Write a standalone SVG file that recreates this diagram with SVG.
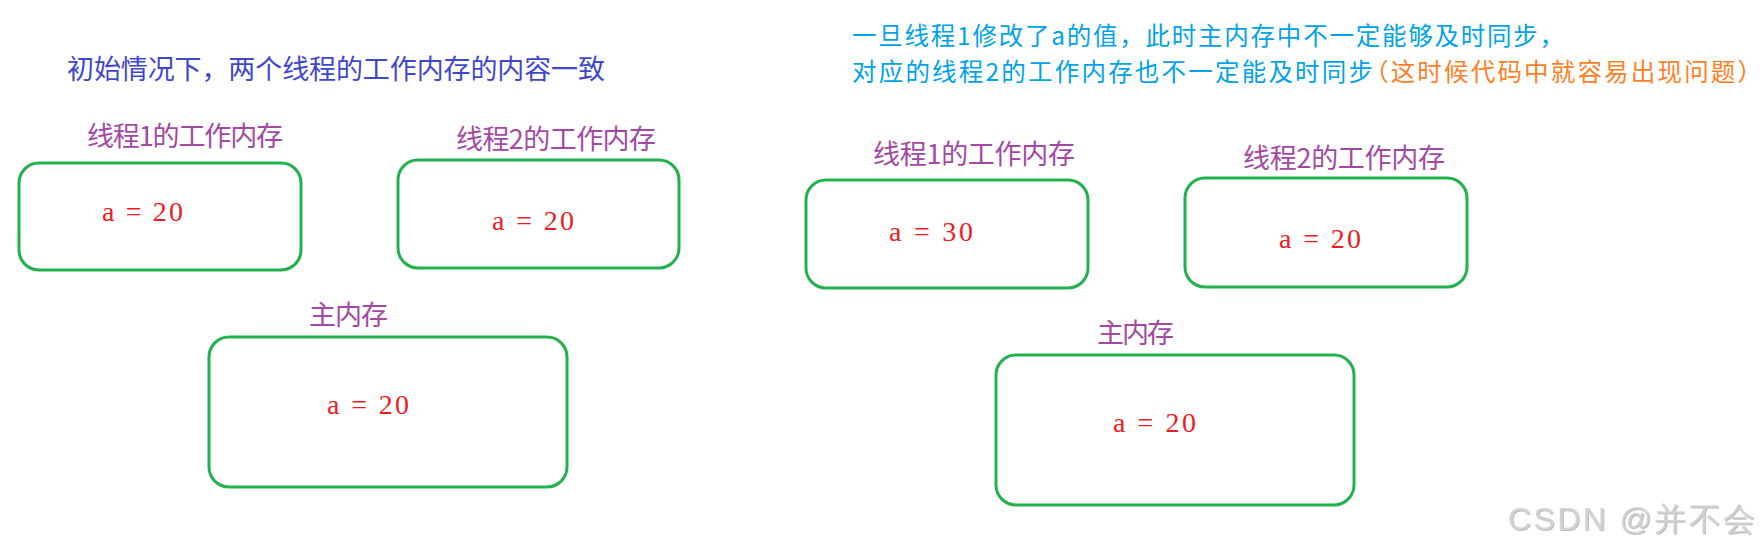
<svg xmlns="http://www.w3.org/2000/svg" width="1762" height="552" viewBox="0 0 1762 552">
<style>
.box{fill:none;stroke:#22b14c;stroke-width:3}
.cjk{font-family:"Noto Sans CJK SC","Noto Sans",sans-serif;font-size:27px}
.hdr{font-family:"Noto Sans CJK SC","Noto Sans",sans-serif;font-size:24.5px}
.lbl{font-family:"Noto Sans CJK SC","Noto Sans",sans-serif;font-size:27px;fill:#a349a4}
.val{font-family:"Liberation Serif","Noto Sans CJK SC",serif;font-size:28px;fill:#ed1c24}
.blue{fill:#3f48cc}
.cyan{fill:#00a2e8}
.orange{fill:#ff7f27}
.wm{font-family:"Liberation Sans",Arial,sans-serif;font-size:32px;fill:#d2d2d2}
</style>
<defs>
<filter id="emb" x="-5%" y="-20%" width="110%" height="140%">
<feDropShadow dx="0.8" dy="0.8" stdDeviation="0.4" flood-color="#9a9a9a" flood-opacity="0.8"/>
</filter>
</defs>
<rect width="1762" height="552" fill="#ffffff"/>
<text id="title-left" class="cjk blue" x="67" y="79" textLength="538" lengthAdjust="spacing">初始情况下，两个线程的工作内存的内容一致</text>
<g id="title-right">
<text class="hdr cyan" x="852" y="45" textLength="712" lengthAdjust="spacing">一旦线程1修改了a的值，此时主内存中不一定能够及时同步，</text>
<text class="hdr" x="852" y="81"><tspan class="cyan" textLength="521" lengthAdjust="spacing">对应的线程2的工作内存也不一定能及时同步</tspan><tspan class="orange" x="1364" textLength="398" lengthAdjust="spacing">（这时候代码中就容易出现问题）</tspan></text>
</g>
<g id="left-thread1">
<text class="lbl" x="87" y="146" textLength="196" lengthAdjust="spacing">线程1的工作内存</text>
<rect class="box" x="19" y="163" width="282" height="107" rx="20"/>
<text class="val" x="102" y="221" textLength="81" lengthAdjust="spacing">a = 20</text>
</g>
<g id="left-thread2">
<text class="lbl" x="456" y="149" textLength="200" lengthAdjust="spacing">线程2的工作内存</text>
<rect class="box" x="398" y="160" width="281" height="108" rx="20"/>
<text class="val" x="492" y="230" textLength="82" lengthAdjust="spacing">a = 20</text>
</g>
<g id="left-main">
<text class="lbl" x="309" y="325" textLength="79" lengthAdjust="spacing">主内存</text>
<rect class="box" x="209" y="337" width="358" height="150" rx="20"/>
<text class="val" x="327" y="414" textLength="82" lengthAdjust="spacing">a = 20</text>
</g>
<g id="right-thread1">
<text class="lbl" x="873" y="164" textLength="202" lengthAdjust="spacing">线程1的工作内存</text>
<rect class="box" x="806" y="180" width="282" height="108" rx="20"/>
<text class="val" x="889" y="241" textLength="84" lengthAdjust="spacing">a = 30</text>
</g>
<g id="right-thread2">
<text class="lbl" x="1243" y="168" textLength="202" lengthAdjust="spacing">线程2的工作内存</text>
<rect class="box" x="1185" y="178" width="282" height="109" rx="20"/>
<text class="val" x="1279" y="248" textLength="82" lengthAdjust="spacing">a = 20</text>
</g>
<g id="right-main">
<text class="lbl" x="1097" y="343" textLength="77" lengthAdjust="spacing">主内存</text>
<rect class="box" x="996" y="355" width="358" height="150" rx="20"/>
<text class="val" x="1113" y="432" textLength="83" lengthAdjust="spacing">a = 20</text>
</g>
<g id="connectors"></g>
<text id="watermark" class="wm" x="1508" y="530" textLength="247" lengthAdjust="spacing" filter="url(#emb)">CSDN @并不会</text>
</svg>
